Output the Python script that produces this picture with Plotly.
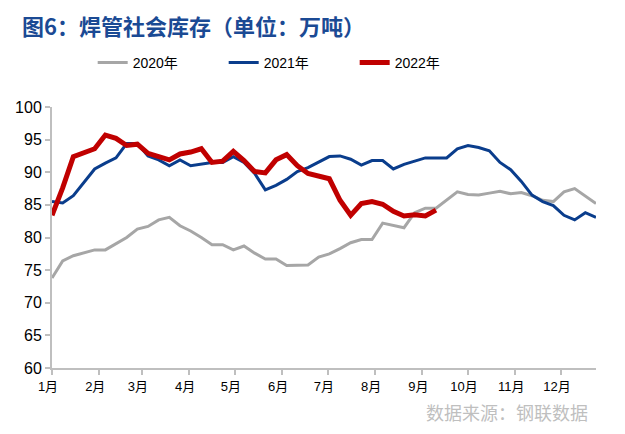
import pandas as pd
import plotly.graph_objects as go

# weekly points mapped onto a common reference year
dates = pd.date_range("2021-01-01", periods=52, freq="7D")

v2020 = [73.8, 76.4, 77.2, 77.7, 78.1, 78.1, 79.1, 80.0, 81.3, 81.7,
         82.7, 83.1, 81.8, 81.0, 80.0, 78.9, 78.9, 78.1, 78.7, 77.6,
         76.7, 76.7, 75.7, 75.8, 75.8, 77.0, 77.5, 78.3, 79.2, 79.7,
         79.7, 82.2, 81.8, 81.5, 83.8, 84.5, 84.5, 85.7, 87.0, 86.6,
         86.5, 86.8, 87.1, 86.7, 86.9, 86.4, 85.7, 85.5, 87.0, 87.5,
         86.3, 85.2]
v2021 = [85.5, 85.3, 86.4, 88.4, 90.5, 91.4, 92.2, 94.4, 94.4, 92.5,
         91.9, 91.0, 91.9, 91.0, 91.3, 91.5, 91.5, 92.4, 91.5, 89.8,
         87.3, 88.0, 88.9, 90.1, 90.7, 91.6, 92.4, 92.5, 92.0, 91.1,
         91.8, 91.8, 90.5, 91.2, 91.7, 92.2, 92.2, 92.2, 93.6, 94.1,
         93.8, 93.3, 91.5, 90.4, 88.6, 86.5, 85.5, 84.9, 83.4, 82.7,
         83.8, 83.1]
v2022 = [83.4, 87.6, 92.4, 93.0, 93.6, 95.7, 95.2, 94.1, 94.3, 92.9,
         92.4, 91.9, 92.8, 93.1, 93.6, 91.5, 91.7, 93.2, 91.8, 90.1,
         89.9, 91.9, 92.7, 91.0, 89.8, 89.4, 89.0, 85.7, 83.4, 85.2,
         85.5, 85.1, 84.0, 83.3, 83.5, 83.3, 84.2]

month_ticks = pd.date_range("2021-01-01", periods=12, freq="MS")
month_labels = [f"{m}月" for m in range(1, 13)]

FONT = "Liberation Sans Narrow, Arial Narrow, Liberation Sans, Noto Sans CJK SC"

fig = go.Figure()
fig.add_trace(go.Scatter(x=dates, y=v2020, mode="lines", name="2020年",
                         line=dict(color="#A6A6A6", width=3)))
fig.add_trace(go.Scatter(x=dates, y=v2021, mode="lines", name="2021年",
                         line=dict(color="#0A3D8C", width=3)))
fig.add_trace(go.Scatter(x=dates[:len(v2022)], y=v2022, mode="lines", name="2022年",
                         line=dict(color="#C00000", width=5)))

fig.update_layout(
    width=617, height=426,
    margin=dict(l=44, r=29, t=99, b=66, autoexpand=False),
    paper_bgcolor="white", plot_bgcolor="white",
    font=dict(family=FONT, size=14, color="#000000"),
    showlegend=True,
    legend=dict(orientation="h", x=0.436, xanchor="center",
                yref="container", y=0.871, yanchor="middle",
                font=dict(size=14, family=FONT), entrywidth=86, entrywidthmode="pixels",
                bgcolor="rgba(0,0,0,0)"),
    title=dict(text="<b>图6：焊管社会库存（单位：万吨）</b>",
               x=0.0227, xanchor="left", y=0.955, yanchor="middle",
               font=dict(family="Noto Sans CJK SC", size=22, color="#1B4A94")),
    xaxis=dict(type="date", range=["2021-01-01", "2021-12-24"],
               tickmode="array", tickvals=month_ticks, ticktext=month_labels,
               showgrid=False, zeroline=False, automargin=False,
               showline=True, linecolor="#BFBFBF", linewidth=2,
               ticks="outside", ticklen=5, tickcolor="#BFBFBF", tickwidth=2,
               ticklabelshift=-4,
               tickfont=dict(size=13, family=FONT)),
    yaxis=dict(range=[60, 100], dtick=5, tick0=60,
               showgrid=False, zeroline=False, automargin=False,
               showline=True, linecolor="#BFBFBF", linewidth=2,
               ticks="outside", ticklen=5, tickcolor="#BFBFBF", tickwidth=2,
               tickfont=dict(size=16, family=FONT)),
    annotations=[dict(text="数据来源：钢联数据", xref="paper", yref="paper",
                      x=0.989, xanchor="right", y=-0.167, yanchor="middle",
                      showarrow=False,
                      font=dict(family="Noto Sans CJK SC", size=18, color="#BFBFBF"))],
)

fig.write_html("out.html")
